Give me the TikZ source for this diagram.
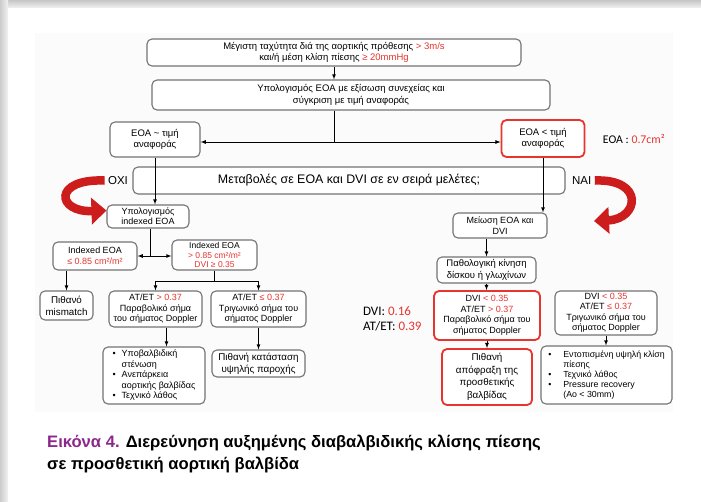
\documentclass[tikz,border=0pt]{standalone}
\usepackage{fontspec}
\setmainfont{Liberation Sans}
\newfontfamily\calfont{Carlito}
\usepackage{tikz}
\usetikzlibrary{shapes,arrows,arrows.meta,positioning}
\definecolor{mred}{RGB}{232, 52, 46}
\definecolor{dred}{RGB}{205, 28, 28}
\definecolor{boxgray}{RGB}{115, 115, 115}
\definecolor{capurple}{RGB}{140, 40, 140}
\definecolor{panel}{RGB}{251, 251, 251}
\tikzstyle{box} = [rectangle, rounded corners=5pt, draw=boxgray, line width=1.1pt, fill=white, text=black, align=center, font=\fontsize{9.5}{11.5}\selectfont, inner sep=1pt]
\tikzstyle{smallbox} = [box, font=\fontsize{9}{10.5}\selectfont]
\tikzstyle{bigbox} = [box, font=\fontsize{9.8}{12}\selectfont]
\tikzstyle{redbox} = [box, draw=mred, line width=1.8pt]
\tikzstyle{textonly} = [draw=none, fill=none, text centered, font=\fontsize{11.5}{13}\selectfont]
\tikzstyle{valtext} = [draw=none, fill=none, align=left, font=\calfont\fontsize{13}{15}\selectfont]
\tikzstyle{captext} = [draw=none, fill=none, inner sep=0pt, anchor=base west, font=\bfseries\fontsize{16.6}{18}\selectfont]
\tikzstyle{tedge}  = [draw, line width=0.8pt, >=latex, ->]
\tikzstyle{nedge}  = [draw, line width=0.8pt]
\tikzstyle{turn}   = [draw=dred, line width=8.5pt, -{Triangle[length=15pt, width=26pt]}]
\newcommand{\redtxt}[1]{\textcolor{mred}{#1}}

\begin{document}
\begin{tikzpicture}[auto, x=1pt, y=-1pt]
%background=========================
\useasboundingbox (0,0) rectangle (701,501);
\fill[white] (0,0) rectangle (701,501);
\shade[top color=gray!45, bottom color=gray!15] (0,0) rectangle (701,7);
\shade[left color=gray!40, right color=gray!10] (0,0) rectangle (8,501);
\fill[panel] (35,33) rectangle (673,412);

%operations=========================
\node[box, minimum width=374pt, minimum height=27pt] (vmax) at (334,52.5) {Μέγιστη ταχύτητα διά της αορτικής πρόθεσης \redtxt{> 3m/s}\\και/ή μέση κλίση πίεσης \redtxt{≥ 20mmHg}};
\node[box, minimum width=398pt, minimum height=30pt] (eoaeq) at (351,95) {Υπολογισμός EOA με εξίσωση συνεχείας και\\σύγκριση με τιμή αναφοράς};
\node[box, minimum width=90pt, minimum height=35pt] (eoasim) at (155,139.5) {EOA \textasciitilde{} τιμή\\αναφοράς};
\node[redbox, minimum width=83pt, minimum height=37pt] (eoaless) at (543,138.5) {EOA < τιμή\\αναφοράς};
\node[valtext, right=14pt of eoaless, font=\calfont\fontsize{11.8}{13}\selectfont] (eoaval) {EOA : \redtxt{0.7cm²}};

\node[box, minimum width=432pt, minimum height=27pt, font=\fontsize{12.4}{14}\selectfont] (changes) at (349,180.5) {Μεταβολές σε EOA και DVI σε εν σειρά μελέτες;};
\node[textonly, left=1pt of changes] (oxi) {ΟΧΙ};
\node[textonly, right=3pt of changes] (nai) {ΝΑΙ};
\coordinate (naitip) at (594,221);

% left branch
\node[box, minimum width=82pt, minimum height=23pt, font=\fontsize{9}{10}\selectfont] (idxcalc) at (148,216.5) {Υπολογισμός\\indexed EOA};
\node[smallbox, minimum width=84pt, minimum height=28pt] (idxlow) at (95,256) {Indexed EOA\\\redtxt{≤ 0.85 cm²/m²}};
\node[box, minimum width=85pt, minimum height=30pt, font=\fontsize{8.5}{9.5}\selectfont] (idxhigh) at (214.5,255) {Indexed EOA\\\redtxt{> 0.85 cm²/m²}\\\redtxt{DVI ≥ 0.35}};
\node[bigbox, minimum width=53pt, minimum height=29pt] (mismatch) at (66.5,305.5) {Πιθανό\\mismatch};
\node[smallbox, minimum width=93pt, minimum height=36pt] (parab) at (155.5,309) {AT/ET \redtxt{> 0.37}\\Παραβολικό σήμα\\του σήματος Doppler};
\node[smallbox, minimum width=95pt, minimum height=36pt] (trig) at (258.5,309) {AT/ET \redtxt{≤ 0.37}\\Τριγωνικό σήμα του\\σήματος Doppler};
\node[smallbox, minimum width=102pt, minimum height=57pt] (causes) at (154,375.5) {\begin{tabular}{@{}l@{\hspace{6pt}}l@{}}
• & Υποβαλβιδική\\ & στένωση\\ • & Ανεπάρκεια\\ & αορτικής βαλβίδας\\ • & Τεχνικό λάθος\end{tabular}};
\node[bigbox, minimum width=93pt, minimum height=27pt] (flow) at (258.5,363.5) {Πιθανή κατάσταση\\υψηλής παροχής};

% right branch
\node[box, minimum width=94pt, minimum height=25pt, font=\fontsize{9}{10.5}\selectfont] (reduce) at (500,225.5) {Μείωση EOA και\\DVI};
\node[box, minimum width=99pt, minimum height=26pt] (patho) at (486.5,270) {Παθολογική κίνηση\\δίσκου ή γλωχίνων};
\node[redbox, minimum width=106pt, minimum height=49pt, font=\fontsize{9}{10.5}\selectfont] (obst) at (487,315.5) {DVI \redtxt{< 0.35}\\AT/ET \redtxt{> 0.37}\\Παραβολικό σήμα του\\σήματος Doppler};
\node[valtext, left=8pt of obst, yshift=-3pt] (dvival) {DVI: \redtxt{0.16}\\AT/ET: \redtxt{0.39}};
\node[smallbox, minimum width=102pt, minimum height=44pt] (dvitrig) at (606,313) {DVI \redtxt{< 0.35}\\AT/ET \redtxt{≤ 0.37}\\Τριγωνικό σήμα του\\σήματος Doppler};
\node[redbox, minimum width=90pt, minimum height=56pt, font=\fontsize{9.8}{12.5}\selectfont] (block) at (487,377) {Πιθανή\\απόφραξη της\\προσθετικής\\βαλβίδας};
\node[smallbox, minimum width=131pt, minimum height=58pt, font=\fontsize{8.8}{10}\selectfont] (other) at (606.5,375) {\begin{tabular}{@{}l@{\hspace{12pt}}l@{}}
• & Εντοπισμένη υψηλή κλίση\\ & πίεσης\\ • & Τεχνικό λάθος\\ • & Pressure recovery\\ & (Ao < 30mm)\end{tabular}};

% caption
\node[captext] (cap1) at (47,447) {\textcolor{capurple}{Εικόνα 4.} Διερεύνηση αυξημένης διαβαλβιδικής κλίσης πίεσης};
\node[captext] (cap2) at (47,469) {σε προσθετική αορτική βαλβίδα};

% edges
\coordinate (sp1) at (334,142);
\coordinate (sp2) at (150,256);
\coordinate (sp3) at (214.5,281);
\path[tedge] (vmax.south) -- (vmax.south |- eoaeq.north);
\path[nedge] (sp1 |- eoaeq.south) -- (sp1);
\path[tedge] (sp1) -- (sp1 -| eoasim.east);
\path[tedge] (sp1) -- (sp1 -| eoaless.west);
\path[tedge] (eoasim.south) -- (eoasim.south |- idxcalc.north);
\path[tedge] (eoaless.south) -- (eoaless.south |- reduce.north);
\path[nedge] (sp2 |- idxcalc.south) -- (sp2);
\path[tedge] (sp2) -- (sp2 -| idxlow.east);
\path[tedge] (sp2) -- (sp2 -| idxhigh.west);
\path[tedge] (mismatch.north |- idxlow.south) -- (mismatch.north);
\path[nedge] (idxhigh.south) -- (sp3);
\path[nedge] (sp3 -| parab.north) -- (sp3 -| trig.north);
\path[tedge] (sp3 -| parab.north) -- (parab.north);
\path[tedge] (sp3 -| trig.north) -- (trig.north);
\path[tedge] ([xshift=11pt]parab.south) -- ([xshift=11pt]parab.south |- causes.north);
\path[tedge] (trig.south) -- (trig.south |- flow.north);
\path[tedge] (patho.north |- reduce.south) -- (patho.north);
\path[tedge] (patho.south) -- (patho.south |- obst.north);
\path[tedge] (obst.south) -- (obst.south |- block.north);
\path[tedge] (dvitrig.south) -- (dvitrig.south |- other.north);
\path[turn] (oxi.west) .. controls +(-52,-2) and +(-50,2) .. ([yshift=6pt]idxcalc.west);
\path[turn] (nai.east) .. controls +(50,-2) and +(45,-2) .. (naitip);

\end{tikzpicture}
\end{document}
